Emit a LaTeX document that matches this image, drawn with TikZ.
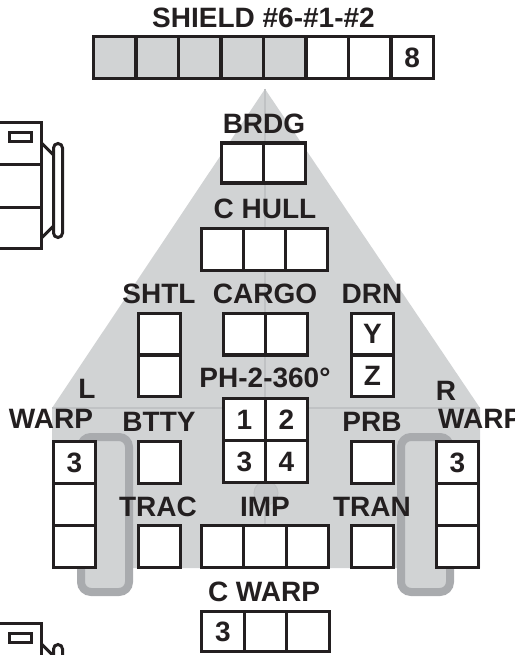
\documentclass[tikz,border=0pt]{standalone}
\usepackage{fontspec}
\setmainfont{Liberation Sans}
\definecolor{ink}{HTML}{231F20}
\definecolor{hullgray}{HTML}{D1D3D4}
\definecolor{nacgray}{HTML}{A9ABAE}
\definecolor{faint}{HTML}{C0C2C4}
\definecolor{circgray}{HTML}{C6C8CA}
\begin{document}
\begin{tikzpicture}[x=1pt,y=-1pt,
  lbl/.style={font=\fontsize{28}{29}\selectfont\bfseries, text=ink, inner sep=0pt},
  cellbox/.style={draw=ink, line width=3.2pt, fill=white, inner sep=0pt,
    minimum width=42pt, minimum height=42pt, font=\fontsize{28}{29}\selectfont\bfseries, text=ink},
  graycell/.style={cellbox, fill=hullgray},
  nacelle/.style={draw=nacgray, line width=8pt, fill=hullgray, rounded corners=10pt},
  devline/.style={draw=ink, line width=3pt}]
\path[use as bounding box, clip] (0,0) rectangle (514,655);
% hull
\fill[hullgray] (265,89) -- (52,408) -- (52,568) -- (480,568) -- (480,408) -- cycle;
\draw[faint, line width=1.2pt] (52,408) -- (480,408);
\draw[faint, line width=1.2pt] (265,89) -- (265,568);
\draw[draw=faint, fill=circgray, line width=1pt] (266,493) circle (12);
% nacelles
\draw[nacelle] (81,437) rectangle (129,592);
\draw[nacelle] (401,437) rectangle (450,592);
% devices at left
\draw[devline] (-3,122.5) rectangle (41.5,248.5);
\draw[devline] (-3,165) -- (41.5,165);
\draw[devline] (-3,207) -- (41.5,207);
\draw[devline] (9.5,132.5) rectangle (31.5,141.5);
\draw[devline, rounded corners=4.5pt] (53.5,143.5) rectangle (62.5,237.5);
\draw[devline] (41.5,143) -- (53.5,155);
\draw[devline] (41.5,238) -- (53.5,226);
\draw[devline] (-3,623.5) rectangle (41.5,750);
\draw[devline] (9.5,633.5) rectangle (31.5,642.5);
\draw[devline, rounded corners=4.5pt] (53.5,644.5) rectangle (62.5,720);
\draw[devline] (41.5,644) -- (53.5,656);
% shield
\node[lbl] (shieldlbl) at (263.5,18) {SHIELD \#6-\#1-\#2};
\node[graycell, minimum width=42.5pt] (s1) at (114.75,57.5) {};
\node[graycell, minimum width=42.5pt] (s2) at (157.25,57.5) {};
\node[graycell, minimum width=42.5pt] (s3) at (199.75,57.5) {};
\node[graycell, minimum width=42.5pt] (s4) at (242.25,57.5) {};
\node[graycell, minimum width=42.5pt] (s5) at (284.75,57.5) {};
\node[cellbox, minimum width=42.5pt] (s6) at (327.25,57.5) {};
\node[cellbox, minimum width=42.5pt] (s7) at (369.75,57.5) {};
\node[cellbox, minimum width=42.5pt] (s8) at (412.25,57.5) {8};
% bridge
\node[lbl] (brdglbl) at (264,124) {BRDG};
\node[cellbox, minimum height=40pt] (b1) at (242.5,163) {};
\node[cellbox, minimum height=40pt] (b2) at (284.5,163) {};
% c hull
\node[lbl] (chulllbl) at (265,209) {C HULL};
\node[cellbox] (h1) at (222.5,249.5) {};
\node[cellbox] (h2) at (264.5,249.5) {};
\node[cellbox] (h3) at (306.5,249.5) {};
% shuttle, cargo, drone
\node[lbl] (shtllbl) at (159,294) {SHTL};
\node[lbl] (cargolbl) at (265,294) {CARGO};
\node[lbl] (drnlbl) at (372,294) {DRN};
\node[cellbox, minimum height=41.5pt] (t1) at (159.5,334.25) {};
\node[cellbox, minimum height=41.5pt] (t2) at (159.5,375.75) {};
\node[cellbox, minimum height=41.5pt] (c1) at (244.5,334.25) {};
\node[cellbox, minimum height=41.5pt] (c2) at (286.5,334.25) {};
\node[cellbox, minimum height=41.5pt] (d1) at (372.5,334.25) {Y};
\node[cellbox, minimum height=41.5pt] (d2) at (372.5,375.75) {Z};
% phasers
\node[lbl] (phlbl) at (265,378) {PH-2-360°};
\node[cellbox] (p1) at (244.5,419.5) {1};
\node[cellbox] (p2) at (286.5,419.5) {2};
\node[cellbox] (p3) at (244.5,461.5) {3};
\node[cellbox] (p4) at (286.5,461.5) {4};
% warp engines
\node[lbl] (llbl) at (87,389) {L};
\node[lbl] (lwarplbl) at (51,419) {WARP};
\node[lbl] (rlbl) at (446,391) {R};
\node[lbl, anchor=west] (rwarplbl) at (438,419) {WARP};
\node[cellbox] (lw1) at (74.5,462.5) {3};
\node[cellbox] (lw2) at (74.5,504.5) {};
\node[cellbox] (lw3) at (74.5,546.5) {};
\node[cellbox] (rw1) at (457.5,462.5) {3};
\node[cellbox] (rw2) at (457.5,504.5) {};
\node[cellbox] (rw3) at (457.5,546.5) {};
% battery, probe
\node[lbl] (bttylbl) at (159,422) {BTTY};
\node[lbl] (prblbl) at (372,422) {PRB};
\node[cellbox] (bt) at (159.5,462.5) {};
\node[cellbox] (pr) at (372.5,462.5) {};
% tractor, impulse, transporter
\node[lbl] (traclbl) at (158,507) {TRAC};
\node[lbl] (implbl) at (265,507) {IMP};
\node[lbl] (tranlbl) at (372,507) {TRAN};
\node[cellbox] (tr) at (159.5,546.5) {};
\node[cellbox, minimum width=42.33pt] (i1) at (222.67,546.5) {};
\node[cellbox, minimum width=42.33pt] (i2) at (265,546.5) {};
\node[cellbox, minimum width=42.33pt] (i3) at (307.33,546.5) {};
\node[cellbox] (tn) at (372.5,546.5) {};
% center warp
\node[lbl] (cwarplbl) at (264,592) {C WARP};
\node[cellbox, minimum width=42.67pt, minimum height=40pt] (w1) at (222.83,631.5) {3};
\node[cellbox, minimum width=42.67pt, minimum height=40pt] (w2) at (265.5,631.5) {};
\node[cellbox, minimum width=42.67pt, minimum height=40pt] (w3) at (308.17,631.5) {};
\end{tikzpicture}
\end{document}
